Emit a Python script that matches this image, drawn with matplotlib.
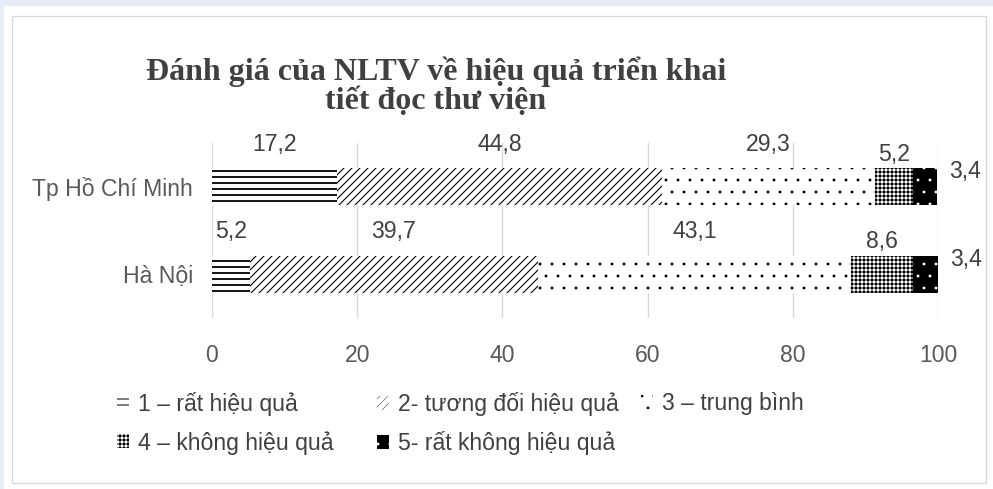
import matplotlib
matplotlib.use("Agg")
import matplotlib.pyplot as plt
from matplotlib.patches import Rectangle, Patch
import numpy as np

plt.rcParams['font.family'] = ['Liberation Sans', 'DejaVu Sans']

# ---- data ----
categories = ["Tp Hồ Chí Minh", "Hà Nội"]
series_names = ["1 – rất hiệu quả", "2- tương đối hiệu quả", "3 – trung bình",
                "4 – không hiệu quả", "5- rất không hiệu quả"]
hcm_values = [17.2, 44.8, 29.3, 5.2, 3.4]
hanoi_values = [5.2, 39.7, 43.1, 8.6, 3.4]
x_ticks = [0, 20, 40, 60, 80, 100]
title = "Đánh giá của NLTV về hiệu quả triển khai\ntiết đọc thư viện"

values = np.array([hcm_values, hanoi_values])   # rows = categories

# ---- styles (dpi 72: 1 pt == 1 px) ----
styles = [
    dict(facecolor="white", edgecolor="black", hatch="--"),
    dict(facecolor="white", edgecolor="black", hatch="///"),
    dict(facecolor="white", edgecolor="black", hatch="."),
    dict(facecolor="black", edgecolor="white", hatch="+++"),
    dict(facecolor="black", edgecolor="white", hatch="."),
]
hatch_lw = [1.8, 1.1, 0.4, 1.0, 0.4]
text_col = "#404040"
tick_col = "#595959"
FS = 23
DPI = 72
W, H = 993, 489
fig = plt.figure(figsize=(W / DPI, H / DPI), dpi=DPI, facecolor="white")

# background frame
fig.patches.append(Rectangle((0, 1 - 6 / H), 1, 6 / H, transform=fig.transFigure,
                             facecolor="#E8ECF6", edgecolor="none", zorder=-10))
fig.patches.append(Rectangle((0, 0), 4 / W, 1, transform=fig.transFigure,
                             facecolor="#E8ECF6", edgecolor="none", zorder=-10))
fig.patches.append(Rectangle((12 / W, 1 - 483 / H), (986 - 12) / W, (483 - 16) / H,
                             transform=fig.transFigure, facecolor="none",
                             edgecolor="#D9D9D9", lw=1.3, zorder=-9))

ax = fig.add_axes([212 / W, 1 - 318 / H, (938 - 212) / W, (318 - 143) / H])
ax.set_facecolor("none")


def set_hlw(artist, lw):
    try:
        artist.set_hatch_linewidth(lw)
    except Exception:
        pass


ypos = np.array([1, 0])
bar_h = 0.423
lefts = np.zeros(len(categories))
for j, name in enumerate(series_names):
    plt.rcParams['hatch.linewidth'] = hatch_lw[j]
    b = ax.barh(ypos, values[:, j], left=lefts, height=bar_h, linewidth=0,
                label=name, zorder=3, **styles[j])
    for p in b.patches:
        set_hlw(p, hatch_lw[j])
    for i in range(len(categories)):
        v = values[i, j]
        lab = f"{v:.1f}".replace(".", ",")
        top = ypos[i] + bar_h / 2
        if j <= 2:
            ax.annotate(lab, (lefts[i] + v / 2, top), xytext=(0, 24),
                        textcoords="offset points", ha="center", va="center",
                        fontsize=FS, color=text_col)
        elif j == 3:
            ax.annotate(lab, (lefts[i] + v / 2, top), xytext=(0, 14),
                        textcoords="offset points", ha="center", va="center",
                        fontsize=FS, color=text_col)
        else:
            ax.annotate(lab, (lefts[i] + v, ypos[i]), xytext=(12, 15),
                        textcoords="offset points", ha="left", va="center",
                        fontsize=FS, color=text_col)
    lefts = lefts + values[:, j]

ax.set_xlim(0, 100)
ax.set_ylim(-0.5, 1.5)
ax.set_xticks(x_ticks)
ax.set_xticklabels([str(t) for t in x_ticks])
ax.set_yticks(ypos)
ax.set_yticklabels(categories)
ax.tick_params(axis="x", length=0, pad=26, labelsize=FS, labelcolor=tick_col)
ax.tick_params(axis="y", length=0, pad=19, labelsize=FS, labelcolor=tick_col)
for s in ax.spines.values():
    s.set_visible(False)
ax.grid(axis="x", color="#D9D9D9", lw=1.4, zorder=0)
ax.set_axisbelow(True)

# title
fig.text(436 / W, 1 - 86 / H, title, ha="center", va="center", multialignment="center",
         fontsize=32, fontweight="bold", family="Liberation Serif", color=text_col,
         linespacing=1.0)


# legends (three columns)
def mk(j):
    plt.rcParams['hatch.linewidth'] = hatch_lw[j]
    p = Patch(label=series_names[j], linewidth=0, **styles[j])
    set_hlw(p, hatch_lw[j])
    return p


leg_kw = dict(frameon=False, fontsize=FS, handlelength=0.5, handleheight=0.55,
              handletextpad=0.4, labelspacing=0.65, borderpad=0, borderaxespad=0,
              loc="upper left", bbox_transform=fig.transFigure, labelcolor=text_col)
col_x = [117, 377, 641]
groups = [[0, 3], [1, 4], [2]]
for cx, g in zip(col_x, groups):
    leg = fig.legend(handles=[mk(j) for j in g], bbox_to_anchor=(cx / W, 1 - 392 / H),
                     **leg_kw)

fig.savefig("out.png", dpi=DPI, facecolor="white")
